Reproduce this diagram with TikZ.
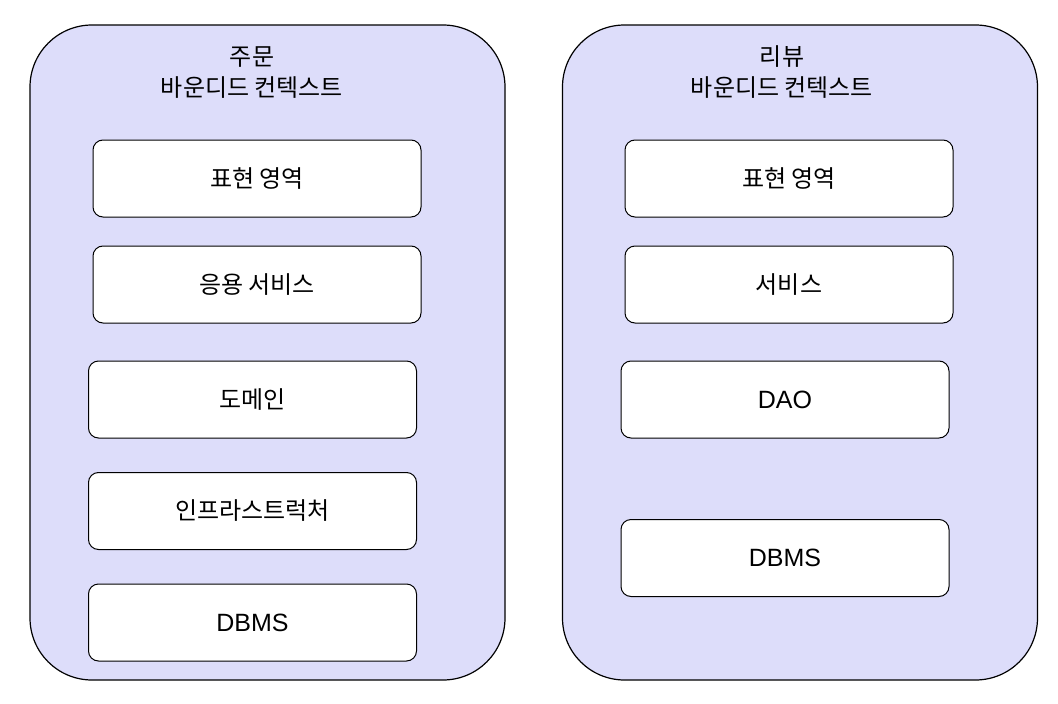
\documentclass[tikz,border=0pt]{standalone}
\usepackage{fontspec}
\setmainfont{Liberation Sans}
\newfontfamily\kr{Noto Sans CJK KR}
\definecolor{ctxfill}{HTML}{DDDDFA}

\begin{document}
\begin{tikzpicture}[x=1pt,y=-1pt,
    context/.style={rounded corners=62pt, draw=black, line width=1.2pt, fill=ctxfill,
        minimum width=475pt, minimum height=655pt},
    layer/.style={rounded corners=10pt, draw=black, line width=1pt, fill=white,
        minimum width=328pt, minimum height=77pt, font=\kr\fontsize{24}{28}\selectfont},
    dblayer/.style={layer, font=\fontsize{25}{29}\selectfont},
    title/.style={align=center, font=\kr\fontsize{24}{31}\selectfont}]

\useasboundingbox (0,0) rectangle (1058,704);

% order context
\node[context] (order) at (267.5,352.5) {};
\node[title] (orderTitle) at (252,72.5) {주문\\바운디드 컨텍스트};
\node[layer] (orderUi) at (257,178.5) {표현 영역};
\node[layer] (orderApp) at (257,284.5) {응용 서비스};
\node[layer] (orderDomain) at (252.5,399.5) {도메인};
\node[layer] (orderInfra) at (252.5,511) {인프라스트럭처};
\node[dblayer] (orderDb) at (252.5,622.5) {DBMS};

% review context
\node[context] (review) at (800,352.5) {};
\node[title] (reviewTitle) at (782,72.5) {리뷰\\바운디드 컨텍스트};
\node[layer] (reviewUi) at (789,178.5) {표현 영역};
\node[layer] (reviewSvc) at (789,284.5) {서비스};
\node[dblayer] (reviewDao) at (785,399.5) {DAO};
\node[dblayer] (reviewDb) at (785,558) {DBMS};

\end{tikzpicture}
\end{document}
